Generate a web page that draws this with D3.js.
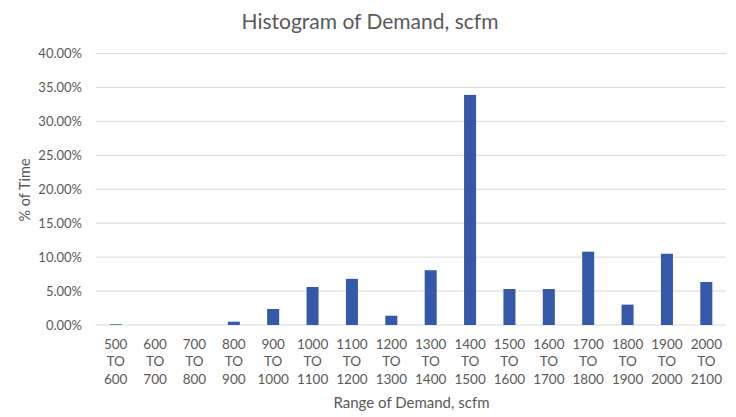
<!DOCTYPE html>
<html><head><meta charset="utf-8">
<script src="https://cdn.jsdelivr.net/npm/d3@7"></script>
<style>body{margin:0;background:#fff;} text{font-family:Lato,"Open Sans",sans-serif;}</style>
</head><body>
<svg id="c" width="736" height="417"></svg>
<script>
const rangeStarts = ["500","600","700","800","900","1000","1100","1200","1300","1400","1500","1600","1700","1800","1900","2000"];
const rangeEnds   = ["600","700","800","900","1000","1100","1200","1300","1400","1500","1600","1700","1800","1900","2000","2100"];
const percentTime = [0.1,0,0,0.49,2.36,5.6,6.8,1.37,8.07,33.9,5.3,5.3,10.8,3.0,10.5,6.34];
const yTicks = [0,5,10,15,20,25,30,35,40];

const svg = d3.select("#c");
const m = {left:96, right:10, top:53.5, bottom:92};
const W = 736, H = 417;
const x = d3.scaleBand().domain(rangeStarts).range([m.left, W-m.right]).paddingInner(0.695).paddingOuter(0.3475);
const y = d3.scaleLinear().domain([0,40]).range([325, 53.5]);

// gridlines
svg.append("g").selectAll("line").data(yTicks).join("line")
  .attr("x1", m.left).attr("x2", W-m.right)
  .attr("y1", d=>y(d)).attr("y2", d=>y(d))
  .attr("stroke", "#d9d9d9").attr("stroke-width", 1);

// y tick labels
svg.append("g").selectAll("text").data(yTicks).join("text")
  .attr("x", 82).attr("y", d=>y(d)).attr("dy","0.35em")
  .attr("text-anchor","end").attr("font-size", 13).attr("fill","#595959")
  .text(d=>d.toFixed(2)+"%");

// bars
svg.append("g").selectAll("rect").data(percentTime).join("rect")
  .attr("x", (d,i)=>x(rangeStarts[i])).attr("width", x.bandwidth())
  .attr("y", d=>y(d)).attr("height", d=>y(0)-y(d))
  .attr("fill", "#3559a8");

// x labels
const xl = svg.append("g").selectAll("text").data(rangeStarts).join("text")
  .attr("text-anchor","middle").attr("font-size", 13.5).attr("fill","#595959");
xl.each(function(d,i){
  const t = d3.select(this);
  const cx = x(d)+x.bandwidth()/2;
  [d, "TO", rangeEnds[i]].forEach((s,k)=>{
    t.append("tspan").attr("x", cx).attr("y", 344 + k*17.5).attr("dy","0.35em").text(s);
  });
});

// axis titles
svg.append("text").attr("x", 411.5).attr("y", 403).attr("dy","0.35em")
  .attr("text-anchor","middle").attr("font-size", 15).attr("fill","#595959").text("Range of Demand, scfm");
svg.append("text").attr("transform","translate(25,190) rotate(-90)").attr("dy","0.35em")
  .attr("text-anchor","middle").attr("font-size", 14.5).attr("fill","#595959").text("% of Time");
svg.append("text").attr("x", 370).attr("y", 22).attr("dy","0.35em")
  .attr("text-anchor","middle").attr("font-size", 21).attr("fill","#595959").text("Histogram of Demand, scfm");
</script>
</body></html>
